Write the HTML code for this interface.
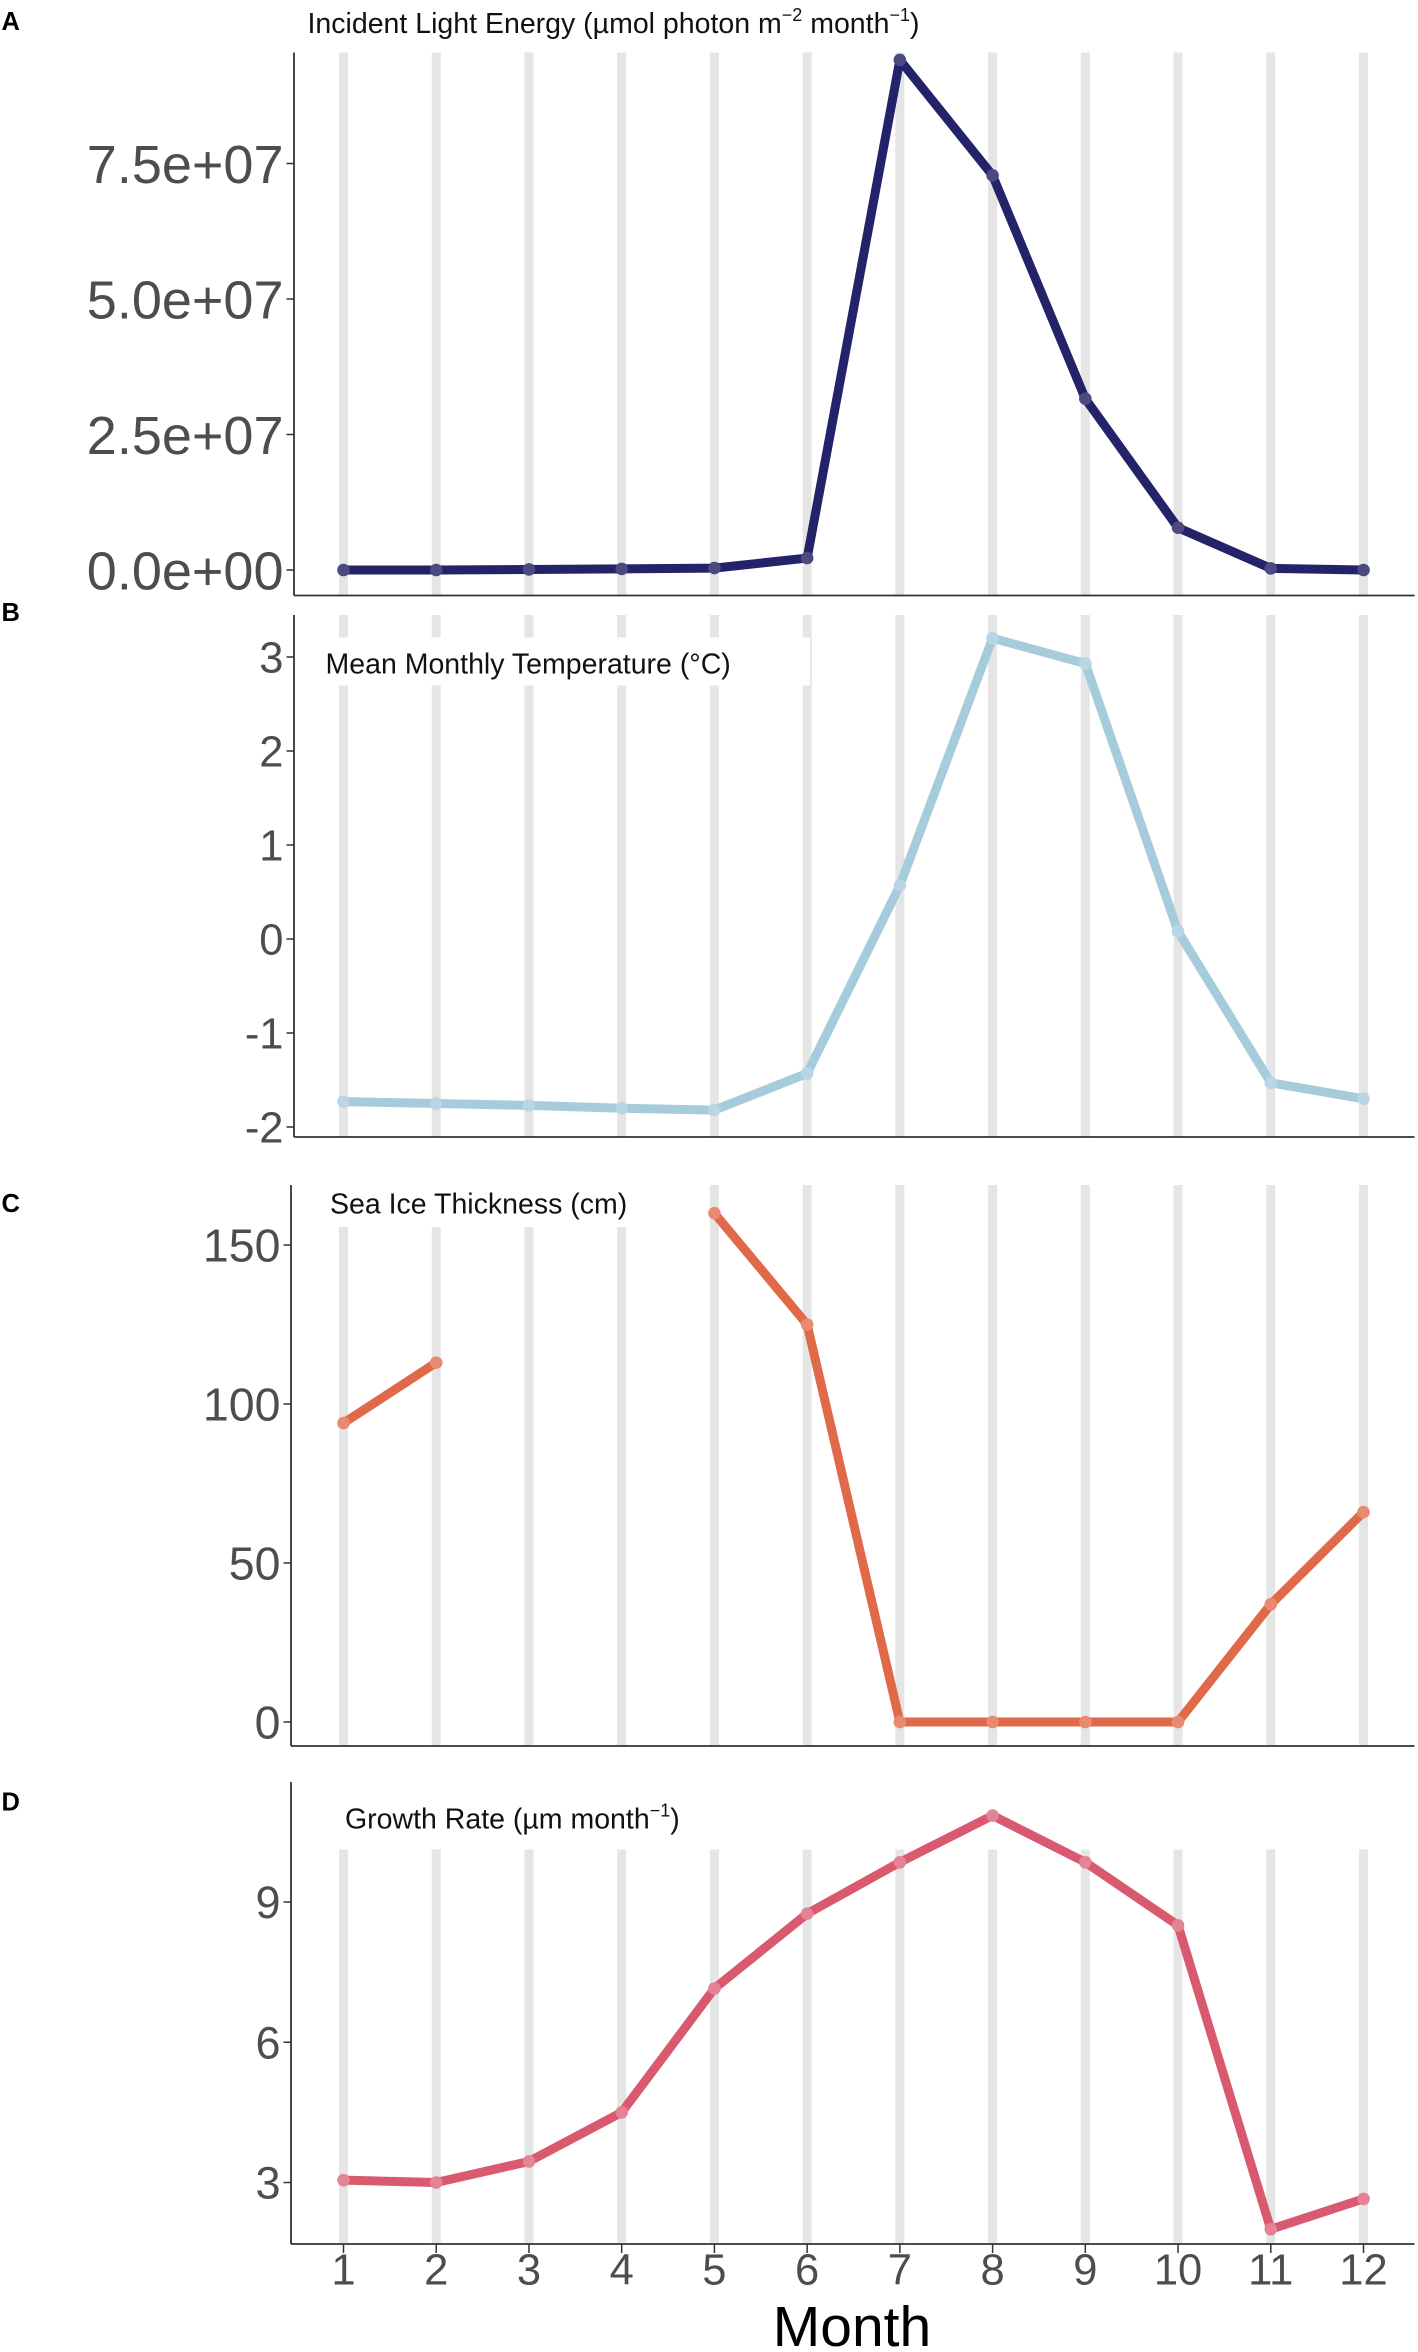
<!DOCTYPE html>
<html><head><meta charset="utf-8"><style>html,body{margin:0;padding:0;background:#fff}svg{display:block}text{font-family:"Liberation Sans",sans-serif}</style></head>
<body>
<svg id="fig" width="1418" height="2352" viewBox="0 0 945.33 1568" xmlns="http://www.w3.org/2000/svg"></svg>
<script>
const months=[1,2,3,4,5,6,7,8,9,10,11,12];
const lightVals=[0,0,0.1e6,0.2e6,0.35e6,2.2e6,94.1e6,72.8e6,31.6e6,7.8e6,0.3e6,0];
const tempVals=[-1.73,-1.75,-1.77,-1.80,-1.82,-1.43,0.57,3.2,2.93,0.08,-1.53,-1.70];
const iceVals=[94,113,null,null,160,125,0,0,0,0,37,66];
const growthVals=[3.05,3.0,3.45,4.5,7.15,8.75,9.85,10.85,9.85,8.5,2.0,2.65];
const lightTicks=[0,2.5e7,5e7,7.5e7];
const lightTickLabels=["0.0e+00","2.5e+07","5.0e+07","7.5e+07"];
const tempTicks=[-2,-1,0,1,2,3];
const tempTickLabels=["-2","-1","0","1","2","3"];
const iceTicks=[0,50,100,150];
const iceTickLabels=["0","50","100","150"];
const growthTicks=[3,6,9];
const growthTickLabels=["3","6","9"];

const svg=document.getElementById('fig');
const NS='http://www.w3.org/2000/svg';
function mk(tag,attrs,parent){const e=document.createElementNS(NS,tag);for(const k in attrs)e.setAttribute(k,attrs[k]);(parent||svg).appendChild(e);return e;}
const xScale=m=>229+(m-1)*(909-229)/11;

function panel(cfg){
  const g=mk('g',{});
  
  
  const y=v=>cfg.y0+(v-cfg.v0)*(cfg.y1-cfg.y0)/(cfg.v1-cfg.v0);
  months.forEach(m=>{const l=mk('line',{x1:xScale(m),x2:xScale(m),y1:cfg.gridTop,y2:cfg.axisY,stroke:'#e5e5e5','stroke-width':6},g);
    
    });
  const ax=mk('line',{x1:cfg.axisX,x2:cfg.axisX,y1:cfg.axisTop,y2:cfg.axisY,stroke:'#333','stroke-width':1.2},g);
  
  
  const bx=mk('line',{x1:cfg.axisX,x2:943,y1:cfg.axisY,y2:cfg.axisY,stroke:'#333','stroke-width':1.2},g);
  
  
  cfg.ticks.forEach((t,i)=>{mk('line',{x1:cfg.axisX-5,x2:cfg.axisX,y1:y(t),y2:y(t),stroke:'#333','stroke-width':1},g);
    const tx=mk('text',{x:cfg.axisX-7,y:y(t)+cfg.fs*0.36,'text-anchor':'end','font-size':cfg.fs,fill:'#4d4d4d'},g);
    tx.textContent=cfg.labels[i];
    
    });
  let seg=[];
  const flush=()=>{if(seg.length>1){const p=mk('polyline',{points:seg.join(' '),fill:'none',stroke:cfg.color,'stroke-width':6,'stroke-linejoin':'round','stroke-linecap':'round'},g);
    
    }seg=[];};
  cfg.vals.forEach((v,i)=>{if(v===null){flush();}else seg.push(xScale(months[i])+','+y(v));});
  flush();
  cfg.vals.forEach((v,i)=>{if(v===null)return;const c=mk('circle',{cx:xScale(months[i]),cy:y(v),r:4.2,fill:cfg.pt},g);
    
    });
  if(cfg.titleBg){mk('rect',cfg.titleBg,g).setAttribute('fill','#fff');}
  const tt=mk('text',{x:cfg.tx,y:cfg.ty,'font-size':19,fill:'#111'},g);
  tt.innerHTML=cfg.title;
  
  
  const pl=mk('text',{x:1,y:cfg.ly,'font-size':17,'font-weight':'bold',fill:'#000'},g);
  pl.textContent=cfg.letter;
  
  
}
panel({name:'panel-a-light',vals:lightVals,ticks:lightTicks,labels:lightTickLabels,v0:0,v1:7.5e7,y0:380,y1:109,gridTop:35,axisTop:35,axisY:397,axisX:196,fs:36,color:'#23236a',pt:'#4a4a7e',
  title:'Incident Light Energy (µmol photon m<tspan dy="-8" font-size="12">−2</tspan><tspan dy="8"> month</tspan><tspan dy="-8" font-size="12">−1</tspan><tspan dy="8">)</tspan>',tx:205,ty:22,letter:'A',ly:20});
panel({name:'panel-b-temperature',vals:tempVals,ticks:tempTicks,labels:tempTickLabels,v0:0,v1:3,y0:626,y1:438,gridTop:410,axisTop:410,axisY:758,axisX:196,fs:29,color:'#a6cbdb',pt:'#b8d6e3',
  titleBg:{x:210,y:425,width:330,height:32},title:'Mean Monthly Temperature (°C)',tx:217,ty:449,letter:'B',ly:414});
panel({name:'panel-c-sea-ice',vals:iceVals,ticks:iceTicks,labels:iceTickLabels,v0:0,v1:150,y0:1148,y1:830,gridTop:790,axisTop:790,axisY:1164,axisX:194,fs:31,color:'#e0694a',pt:'#e88a72',
  titleBg:{x:212,y:786,width:240,height:32},title:'Sea Ice Thickness (cm)',tx:220,ty:809,letter:'C',ly:808});
panel({name:'panel-d-growth',vals:growthVals,ticks:growthTicks,labels:growthTickLabels,v0:3,v1:9,y0:1455,y1:1268,gridTop:1233,axisTop:1188,axisY:1496,axisX:194,fs:30,color:'#d9596e',pt:'#e48393',
  title:'Growth Rate (µm month<tspan dy="-8" font-size="12">−1</tspan><tspan dy="8">)</tspan>',tx:230,ty:1219,letter:'D',ly:1207});
months.forEach(m=>{mk('line',{x1:xScale(m),x2:xScale(m),y1:1496,y2:1502,stroke:'#333','stroke-width':1});
  const t=mk('text',{x:xScale(m),y:1492+31,'text-anchor':'middle','font-size':29,fill:'#4d4d4d'});
  t.textContent=String(m);
  
  });
const xt=mk('text',{x:568,y:1564,'text-anchor':'middle','font-size':38,fill:'#000'});
xt.textContent='Month';


</script>
</body></html>
